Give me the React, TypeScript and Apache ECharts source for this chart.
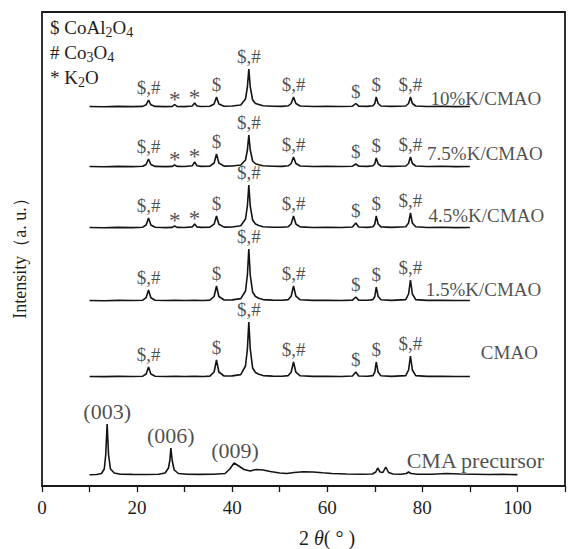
import React, { useEffect, useRef } from "react";
import * as echarts from "echarts";

const FONT = '"Liberation Serif", "Times New Roman", serif';
const INK = "#141414";
const TXT = "#1e1e1e";

// Sample names, bottom-of-stack order is last
const SAMPLE_NAMES = ["10%K/CMAO", "7.5%K/CMAO", "4.5%K/CMAO", "1.5%K/CMAO", "CMAO", "CMA precursor"];
// vertical stacking offsets (a.u.)
const OFFSETS = [379, 319, 258, 185, 109, 11];

// X ticks
const X_TICKS = [0, 20, 40, 60, 80, 100];

// Patterns: [2θ, intensity above own baseline]
const K10: number[][] = [
  [10, 0.5], [13, 0.3], [16, 0.6], [19, 0.4], [21.2, 0.6], [21.9, 2.2], [22.4, 7], [22.9, 2.2], [23.8, 0.6],
  [26, 0.4], [27.4, 0.6], [27.9, 2.5], [28.4, 0.6],
  [30, 0.4], [31.6, 1], [32.1, 4], [32.6, 1], [33.5, 0.5],
  [35.3, 0.7], [36.2, 3], [36.7, 10], [37.2, 3], [38.3, 0.8],
  [40, 1], [41.8, 2], [42.8, 8], [43.2, 20], [43.5, 38], [43.8, 20], [44.3, 7], [44.9, 3.5], [45.6, 2.5], [46.5, 1.2],
  [48.5, 0.8], [50.5, 0.6], [51.8, 1.2], [52.4, 3.5], [52.9, 10], [53.4, 3.5], [54.3, 1],
  [57, 0.5], [60, 0.7], [63, 0.5], [65.3, 0.8], [66, 3.5], [66.6, 0.8],
  [68.5, 0.6], [69.6, 1.2], [70, 3.5], [70.3, 10], [70.7, 3.5], [71.3, 1],
  [73.5, 0.6], [76.5, 1], [77.1, 3.5], [77.5, 10], [77.9, 3.5], [78.6, 1],
  [81, 0.5], [84, 0.7], [87, 0.4], [90, 0.5],
];
const K75: number[][] = [
  [10, 0.5], [13, 0.3], [16, 0.6], [19, 0.4], [21.2, 0.7], [21.9, 2.5], [22.4, 8], [22.9, 2.5], [23.8, 0.6],
  [26, 0.4], [27.4, 0.6], [27.9, 2], [28.4, 0.6],
  [30, 0.5], [31.6, 1.2], [32.1, 5], [32.6, 1.2], [33.5, 0.6],
  [35.3, 0.8], [36.2, 4], [36.7, 13], [37.2, 4], [38.3, 0.9],
  [40, 1], [41.8, 2], [42.8, 7], [43.2, 17], [43.5, 32], [43.8, 17], [44.3, 6], [44.9, 3.2], [45.6, 2.2], [46.5, 1.2],
  [48.5, 0.8], [50.5, 0.6], [51.8, 1.2], [52.4, 3.5], [52.9, 10], [53.4, 3.5], [54.3, 1],
  [57, 0.5], [60, 0.7], [63, 0.5], [65.3, 0.8], [66, 3], [66.6, 0.8],
  [68.5, 0.6], [69.6, 1.2], [70, 3.2], [70.3, 9], [70.7, 3.2], [71.3, 1],
  [73.5, 0.6], [76.5, 1], [77.1, 3.5], [77.5, 10], [77.9, 3.5], [78.6, 1],
  [81, 0.5], [84, 0.7], [87, 0.4], [90, 0.5],
];
const K45: number[][] = [
  [10, 0.5], [13, 0.3], [16, 0.6], [19, 0.4], [21.2, 0.8], [21.9, 3], [22.4, 10], [22.9, 3], [23.8, 0.7],
  [26, 0.4], [27.4, 0.6], [27.9, 2], [28.4, 0.6],
  [30, 0.5], [31.6, 1.1], [32.1, 4], [32.6, 1.1], [33.5, 0.6],
  [35.3, 0.8], [36.2, 3.8], [36.7, 12], [37.2, 3.8], [38.3, 0.9],
  [40, 1], [41.8, 2.2], [42.8, 9], [43.2, 22], [43.5, 43], [43.8, 22], [44.3, 8], [44.9, 4], [45.6, 2.6], [46.5, 1.3],
  [48.5, 0.8], [50.5, 0.7], [51.8, 1.3], [52.4, 4], [52.9, 12], [53.4, 4], [54.3, 1.1],
  [57, 0.5], [60, 0.7], [63, 0.5], [65.3, 1], [66, 5], [66.6, 1],
  [68.5, 0.6], [69.6, 1.3], [70, 4], [70.3, 12], [70.7, 4], [71.3, 1.1],
  [73.5, 0.6], [76.5, 1.2], [77.1, 5], [77.5, 15], [77.9, 5], [78.6, 1.2],
  [81, 0.5], [84, 0.7], [87, 0.4], [90, 0.5],
];
const K15: number[][] = [
  [10, 0.5], [13, 0.3], [16, 0.6], [19, 0.5], [21.2, 0.8], [21.9, 3.3], [22.4, 11], [22.9, 3.3], [23.8, 0.8],
  [26, 0.5], [28, 0.6], [30, 0.5], [32, 0.6], [34, 0.5],
  [35.3, 0.9], [36.2, 4.5], [36.7, 15], [37.2, 4.5], [38.3, 1],
  [40, 1.1], [41.8, 2.4], [42.8, 10], [43.2, 26], [43.5, 52], [43.8, 26], [44.3, 9], [44.9, 4.5], [45.6, 2.8], [46.5, 1.4],
  [48.5, 0.9], [50.5, 0.7], [51.8, 1.4], [52.4, 4.8], [52.9, 15], [53.4, 4.8], [54.3, 1.2],
  [57, 0.6], [60, 0.7], [63, 0.5], [65.3, 0.9], [66, 4], [66.6, 0.9],
  [68.5, 0.7], [69.6, 1.4], [70, 4.5], [70.3, 14], [70.7, 4.5], [71.3, 1.2],
  [73.5, 0.6], [76.5, 1.4], [77.1, 7], [77.5, 21], [77.9, 7], [78.6, 1.4],
  [81, 0.6], [84, 0.7], [87, 0.5], [90, 0.5],
];
const CMAO: number[][] = [
  [10, 0.5], [13, 0.4], [16, 0.6], [19, 0.5], [21.2, 0.8], [21.9, 3], [22.4, 10], [22.9, 3], [23.8, 0.8],
  [26, 0.5], [28, 0.6], [30, 0.5], [32, 0.6], [34, 0.5],
  [35.3, 0.9], [36.2, 5], [36.7, 17], [37.2, 5], [38.3, 1],
  [40, 1.1], [41.8, 2.4], [42.8, 11], [43.2, 28], [43.5, 55], [43.8, 28], [44.3, 9], [44.9, 4.5], [45.6, 2.8], [46.5, 1.4],
  [48.5, 0.9], [50.5, 0.7], [51.8, 1.4], [52.4, 4.8], [52.9, 15], [53.4, 4.8], [54.3, 1.2],
  [57, 0.6], [60, 0.7], [63, 0.5], [65.3, 1], [66, 5], [66.6, 1],
  [68.5, 0.7], [69.6, 1.4], [70, 4.8], [70.3, 15], [70.7, 4.8], [71.3, 1.2],
  [73.5, 0.6], [76.5, 1.4], [77.1, 7], [77.5, 21], [77.9, 7], [78.6, 1.4],
  [81, 0.6], [84, 0.7], [87, 0.5], [90, 0.5],
];
const PRECURSOR: number[][] = [
  [10, 0.3], [11.5, 0.5], [12.5, 1.5], [13.1, 6], [13.4, 20], [13.7, 51], [14.0, 20], [14.4, 6], [15.2, 2], [16.5, 0.8],
  [19, 0.6], [22, 0.5], [24.5, 0.8], [25.9, 2], [26.6, 7], [26.9, 15], [27.1, 27], [27.4, 14], [27.8, 5], [28.7, 1.5], [30.5, 0.8],
  [33, 0.6], [36, 0.7], [38.5, 1.5], [39.5, 6], [40.4, 12], [41.4, 9], [42.5, 5.5], [43.8, 4], [45, 5.5], [46.5, 5], [48, 3.5], [50, 2], [51.5, 1.5],
  [53, 2.5], [55, 3.2], [57, 3], [59, 2.2], [61, 1.5], [64, 1], [67, 0.8], [69.5, 1], [70.2, 3], [70.6, 7], [71.1, 3], [71.7, 2.5], [72.3, 8], [72.9, 2.5], [73.8, 1],
  [75.5, 0.8], [76.6, 1.5], [77.1, 3], [77.6, 1.5], [79, 0.7], [82, 0.8], [85, 1.5], [88, 1], [91, 0.8], [94, 0.5], [97, 0.6], [100, 0.4],
];
const CURVES = [K10, K75, K45, K15, CMAO, PRECURSOR];

// Peak assignments per curve: [2θ, label]
const ANN_K: [number, string][] = [
  [22.4, "$,#"], [27.9, "*"], [32.1, "*"], [36.7, "$"], [43.5, "$,#"], [52.9, "$,#"], [66.0, "$"], [70.3, "$"], [77.5, "$,#"],
];
const ANN_PLAIN: [number, string][] = [
  [22.4, "$,#"], [36.7, "$"], [43.5, "$,#"], [52.9, "$,#"], [66.0, "$"], [70.3, "$"], [77.5, "$,#"],
];
const ANN_PRE: [number, string][] = [[13.7, "(003)"], [27.1, "(006)"], [40.6, "(009)"]];
const ANNOTATIONS = [ANN_K, ANN_K, ANN_K, ANN_PLAIN, ANN_PLAIN, ANN_PRE];

// layout: sample-name label anchor [2θ, height above own baseline]
const NAME_ANCHOR: [number, number][] = [[81.7, 9], [81.0, 14], [81.3, 13], [80.7, 12], [92.3, 25], [76.7, 15]];

function peakTop(curve: number[][], x: number): number {
  let m = 0;
  for (const [px, py] of curve) if (Math.abs(px - x) < 0.5 && py > m) m = py;
  return m;
}

function legendText(text: string, y: number) {
  return {
    type: "text", x: 50, y,
    style: {
      text, fontSize: 19, fontFamily: FONT, fill: TXT, lineHeight: 24,
      align: "left", verticalAlign: "middle",
      rich: { s: { fontSize: 14, fontFamily: FONT, fill: TXT, verticalAlign: "bottom", lineHeight: 13 } },
    },
  };
}

export default function App() {
  const ref = useRef<HTMLDivElement>(null);
  useEffect(() => {
    const chart = echarts.init(ref.current!, null, { renderer: "svg" });

    const lineSeries = CURVES.map((c, i) => ({
      type: "line",
      name: SAMPLE_NAMES[i],
      data: c.map(([x, y]) => [x, y + OFFSETS[i]]),
      showSymbol: false,
      silent: true,
      lineStyle: { color: INK, width: 1.6 },
      z: 2,
    }));

    const annData: any[] = [];
    ANNOTATIONS.forEach((list, i) => {
      list.forEach(([x, t]) => {
        const isPre = i === CURVES.length - 1;
        annData.push({
          name: t,
          value: [x, peakTop(CURVES[i], x) + OFFSETS[i]],
          label: {
            distance: t === "*" ? -6 : isPre ? 2 : 3,
            fontSize: isPre ? 22 : t === "*" ? 23 : 19,
          },
        });
      });
    });

    const nameData = NAME_ANCHOR.map(([x, dy], i) => ({
      name: SAMPLE_NAMES[i],
      value: [x, OFFSETS[i] + dy],
      label: { fontSize: i === CURVES.length - 1 ? 22 : 19 },
    }));

    const option: any = {
      animation: false,
      grid: {
        left: 42, top: 12, width: 528, height: 474,
        show: true, borderColor: "#1a1a1a", borderWidth: 1.8, backgroundColor: "transparent",
      },
      xAxis: {
        type: "value", min: 0, max: 110, interval: 10,
        axisLine: { show: true, lineStyle: { color: "#1a1a1a", width: 1.6 } },
        axisTick: { show: true, length: 6, lineStyle: { color: "#1a1a1a", width: 1.3 } },
        splitLine: { show: false },
        axisLabel: {
          margin: 12, fontSize: 19, fontFamily: FONT, color: TXT,
          formatter: (v: number) => (X_TICKS.includes(v) ? String(v) : ""),
        },
      },
      yAxis: {
        type: "value", min: 0, max: 474,
        axisLine: { show: true, lineStyle: { color: "#333", width: 1.6 } },
        axisTick: { show: false }, axisLabel: { show: false }, splitLine: { show: false },
      },
      series: [
        ...lineSeries,
        {
          type: "scatter", symbolSize: 0, silent: true, z: 3,
          data: annData,
          label: { show: true, position: "top", formatter: "{b}", fontFamily: FONT, color: TXT },
        },
        {
          type: "scatter", symbolSize: 0, silent: true, z: 3,
          data: nameData,
          label: { show: true, position: "right", distance: 0, formatter: "{b}", fontFamily: FONT, color: TXT },
        },
      ],
      graphic: [
        legendText("$ CoAl{s|2}O{s|4}", 27),
        legendText("# Co{s|3}O{s|4}", 52),
        legendText("* K{s|2}O", 77),
        {
          type: "text", x: 327, y: 538,
          style: {
            text: "2 {i|θ}( ° )", fontSize: 20, fontFamily: FONT, fill: TXT,
            align: "center", verticalAlign: "middle",
            rich: { i: { fontStyle: "italic", fontSize: 20, fontFamily: FONT, fill: TXT } },
          },
        },
        {
          type: "text", x: 20, y: 254, rotation: Math.PI / 2,
          style: {
            text: "Intensity（a. u.）", fontSize: 18, fontFamily: FONT, fill: TXT,
            align: "center", verticalAlign: "middle",
          },
        },
      ],
    };
    chart.setOption(option);
    return () => chart.dispose();
  }, []);
  return <div ref={ref} style={{ position: "absolute", left: 0, top: 0, width: 568, height: 549 }} />;
}
